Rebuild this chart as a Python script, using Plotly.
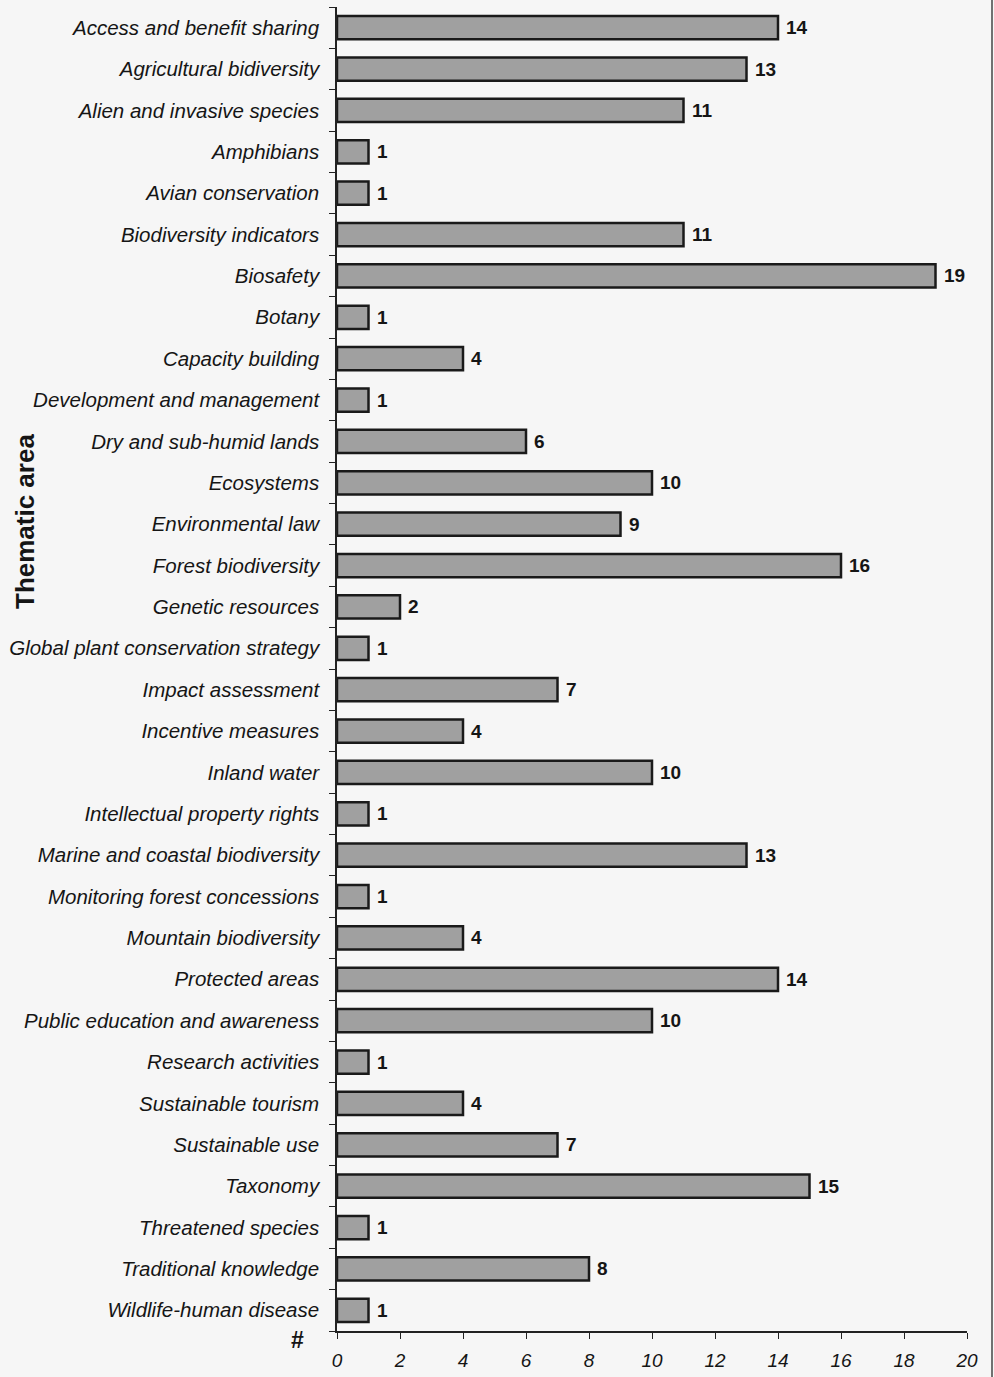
import plotly.graph_objects as go

# Thematic areas and number of entries per area
areas = [
    "Access and benefit sharing", "Agricultural bidiversity", "Alien and invasive species",
    "Amphibians", "Avian conservation", "Biodiversity indicators", "Biosafety", "Botany",
    "Capacity building", "Development and management", "Dry and sub-humid lands",
    "Ecosystems", "Environmental law", "Forest biodiversity", "Genetic resources",
    "Global plant conservation strategy", "Impact assessment", "Incentive measures",
    "Inland water", "Intellectual property rights", "Marine and coastal biodiversity",
    "Monitoring forest concessions", "Mountain biodiversity", "Protected areas",
    "Public education and awareness", "Research activities", "Sustainable tourism",
    "Sustainable use", "Taxonomy", "Threatened species", "Traditional knowledge",
    "Wildlife-human disease",
]
counts = [14, 13, 11, 1, 1, 11, 19, 1, 4, 1, 6, 10, 9, 16, 2, 1, 7, 4, 10, 1,
          13, 1, 4, 14, 10, 1, 4, 7, 15, 1, 8, 1]
x_ticks = list(range(0, 21, 2))

FONT = "Arial, Liberation Sans, sans-serif"
INK = "#151515"

fig = go.Figure(go.Bar(
    y=areas,
    x=counts,
    orientation="h",
    width=0.56,
    marker=dict(color="#a0a0a0", line=dict(color="#1a1a1a", width=2.5)),
))

# Value labels to the right of each bar
for a, c in zip(areas, counts):
    fig.add_annotation(
        x=c, y=a, text=f"<b>{c}</b>", showarrow=False,
        xanchor="left", yanchor="middle", xshift=6,
        font=dict(family=FONT, size=19, color=INK),
    )

fig.update_layout(
    width=994, height=1377,
    margin=dict(l=337, r=27, t=7, b=46),
    paper_bgcolor="#f6f6f6",
    plot_bgcolor="#f6f6f6",
    showlegend=False,
    font=dict(family=FONT, color=INK),
)

fig.update_xaxes(
    range=[0, 20],
    tickvals=x_ticks,
    ticktext=[f"<i>{v}</i>" for v in x_ticks],
    tickfont=dict(family=FONT, size=19, color=INK),
    ticks="outside", ticklen=6, tickcolor="#222222",
    ticklabelstandoff=5,
    showline=True, linecolor="#222222", linewidth=1.5,
    showgrid=False, zeroline=False,
)

fig.update_yaxes(
    autorange="reversed",
    tickvals=areas,
    ticktext=[f"<i>{a}</i>" for a in areas],
    tickfont=dict(family=FONT, size=20.5, color=INK),
    ticks="outside", ticklen=6, tickcolor="#222222", tickson="boundaries",
    ticklabelstandoff=12,
    showline=True, linecolor="#222222", linewidth=1.5,
    showgrid=False, zeroline=False,
)

# Axis titles
fig.add_annotation(
    text="<b>Thematic area</b>", textangle=-90,
    xref="paper", yref="paper", x=-337 / 630, y=1 - (522 - 7) / 1324,
    xanchor="left", yanchor="middle", xshift=8,
    showarrow=False, font=dict(family=FONT, size=26, color=INK),
)
fig.add_annotation(
    text="<b>#</b>",
    xref="paper", yref="paper", x=-40 / 630, y=0,
    xanchor="center", yanchor="top", yshift=6,
    showarrow=False, font=dict(family=FONT, size=23, color=INK),
)

# Frame edge on the right side of the page
fig.add_shape(type="line", xref="paper", yref="paper",
              x0=1 + 25 / 630, x1=1 + 25 / 630, y0=-46 / 1324, y1=1 + 7 / 1324,
              line=dict(color="#444444", width=1.5))

fig.write_html("out.html")
